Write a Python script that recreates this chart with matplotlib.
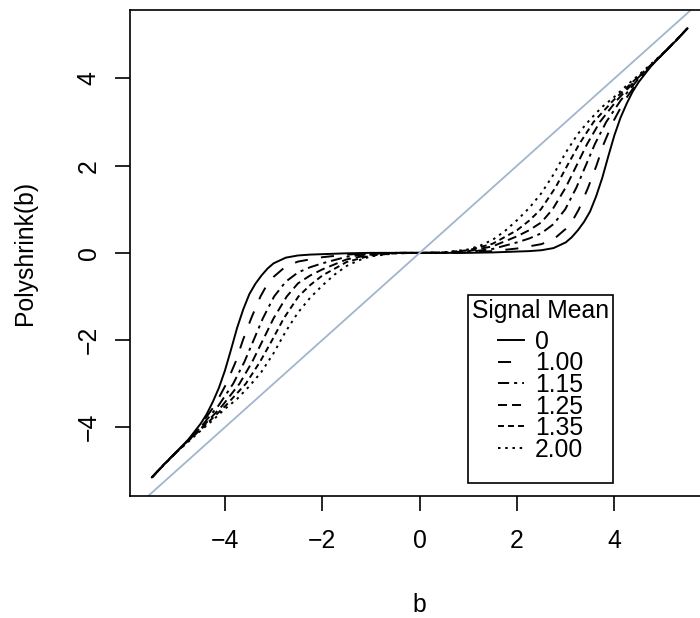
import numpy as np
import matplotlib
matplotlib.use('Agg')
import matplotlib.pyplot as plt
from matplotlib.patches import Rectangle

# values, b >= 0 half (curves are odd: f(-b) = -f(b))
signal_means = ['0', '1.00', '1.15', '1.25', '1.35', '2.00']

b_0 = [0, 0.5, 1.0, 1.5, 2.0, 2.25, 2.5, 2.75, 3.0, 3.125, 3.25, 3.375, 3.5, 3.625,
       3.75, 3.875, 4.0, 4.125, 4.25, 4.375, 4.5, 4.75, 5.0, 5.25, 5.5]
p_0 = [0, 0.0, 0.0, 0.01, 0.03, 0.04, 0.06, 0.11, 0.24, 0.36, 0.52, 0.71, 0.95, 1.3,
       1.72, 2.22, 2.7, 3.1, 3.42, 3.7, 3.92, 4.28, 4.57, 4.85, 5.15]

b_100 = [0, 0.5, 1.0, 1.5, 2.0, 2.5, 2.75, 3.0, 3.15, 3.27, 3.46, 3.63, 3.78, 3.97,
         4.21, 4.53, 4.75, 5.0, 5.25, 5.5]
p_100 = [0, 0.0, 0.01, 0.04, 0.1, 0.2, 0.31, 0.55, 0.76, 1.0, 1.5, 2.0, 2.5, 3.0,
         3.5, 4.0, 4.29, 4.57, 4.85, 5.15]

b_115 = [0, 0.5, 1.0, 1.5, 2.0, 2.25, 2.5, 2.75, 2.99, 3.22, 3.41, 3.60, 3.83, 4.13,
         4.50, 4.75, 5.0, 5.25, 5.5]
p_115 = [0, 0.0, 0.02, 0.09, 0.24, 0.33, 0.45, 0.66, 1.0, 1.5, 2.0, 2.5, 3.0, 3.5,
         4.0, 4.29, 4.57, 4.85, 5.15]

b_125 = [0, 0.5, 1.0, 1.5, 2.0, 2.25, 2.5, 2.73, 3.0, 3.22, 3.44, 3.70, 4.05, 4.47,
         4.75, 5.0, 5.25, 5.5]
p_125 = [0, 0.0, 0.04, 0.15, 0.38, 0.52, 0.7, 1.0, 1.5, 2.0, 2.5, 3.0, 3.5, 4.0,
         4.3, 4.57, 4.85, 5.15]

b_135 = [0, 0.5, 1.0, 1.5, 2.0, 2.25, 2.49, 2.79, 3.03, 3.28, 3.57, 3.98, 4.45, 4.75,
         5.0, 5.25, 5.5]
p_135 = [0, 0.01, 0.06, 0.21, 0.52, 0.74, 1.0, 1.5, 2.0, 2.5, 3.0, 3.5, 4.0, 4.31,
         4.58, 4.86, 5.15]

b_200 = [0, 0.5, 1.0, 1.25, 1.5, 1.75, 2.0, 2.25, 2.5, 2.75, 3.0, 3.25, 3.5, 3.75,
         4.0, 4.25, 4.5, 4.75, 5.0, 5.25, 5.5]
p_200 = [0, 0.01, 0.08, 0.17, 0.3, 0.5, 0.75, 1.03, 1.37, 1.8, 2.3, 2.73, 3.06, 3.35,
         3.58, 3.84, 4.08, 4.33, 4.58, 4.86, 5.15]

curves_b = [b_0, b_100, b_115, b_125, b_135, b_200]
curves_p = [p_0, p_100, p_115, p_125, p_135, p_200]

# dash patterns (points), None = solid
dash_styles = [None, (9.4, 9.6), (8, 3.6, 2.2, 3.6), (6.5, 3.6), (4.3, 2.9), (1.8, 3.4)]


def mirror(b, p):
    b = np.asarray(b, float)
    p = np.asarray(p, float)
    return np.concatenate((-b[::-1], b[1:])), np.concatenate((-p[::-1], p[1:]))


plt.rcParams['font.family'] = ['Liberation Sans', 'DejaVu Sans']
plt.rcParams['lines.scale_dashes'] = False
fs = 17.8

W, H = 700, 618
fig = plt.figure(figsize=(7, 6.18), dpi=100)
ax = fig.add_axes([0.1857, 0.1979, 0.8277, 0.7859])

for b, p, lab, ds in zip(curves_b, curves_p, signal_means, dash_styles):
    x, y = mirror(b, p)
    line, = ax.plot(x, y, color='black', lw=1.4, label=lab)
    if ds is not None:
        line.set_dashes(ds)

ax.axline((0, 0), slope=1, color='#A2B5CD', lw=1.3)

ax.set_xlim(-5.95, 5.95)
ax.set_ylim(-5.57, 5.57)
ax.set_xticks([-4, -2, 0, 2, 4])
ax.set_yticks([-4, -2, 0, 2, 4])
ax.tick_params(direction='out', length=11, width=1.2, labelsize=fs, pad=13)
ax.tick_params(axis='y', labelrotation=90, pad=10)
for t in ax.get_yticklabels():
    t.set_va('center')
for s in ax.spines.values():
    s.set_linewidth(1.2)

ax.set_xlabel('b', fontsize=fs)
ax.xaxis.label.set_va('center')
ax.xaxis.set_label_coords(0.5, -0.225)
ax.set_ylabel('Polyshrink(b)', fontsize=fs)
ax.yaxis.label.set_va('center')
ax.yaxis.set_label_coords(-0.181, 0.5)

# R-style legend box (extra room at the bottom)
ax.add_patch(Rectangle((468 / W, 1 - 483 / H), 145 / W, 188 / H, transform=fig.transFigure,
                       facecolor='white', edgecolor='black', lw=1.2, zorder=4, clip_on=False))
leg = ax.legend(title='Signal Mean', loc='upper center', bbox_to_anchor=(540.5 / W, 1 - 299 / H),
                bbox_transform=fig.transFigure, borderaxespad=0, frameon=False,
                fontsize=fs, title_fontsize=fs, handlelength=1.05, handletextpad=0.45,
                labelspacing=-0.10, borderpad=0, alignment='center')
leg._legend_box.sep = 5.0

fig.savefig('out.png', dpi=100)
